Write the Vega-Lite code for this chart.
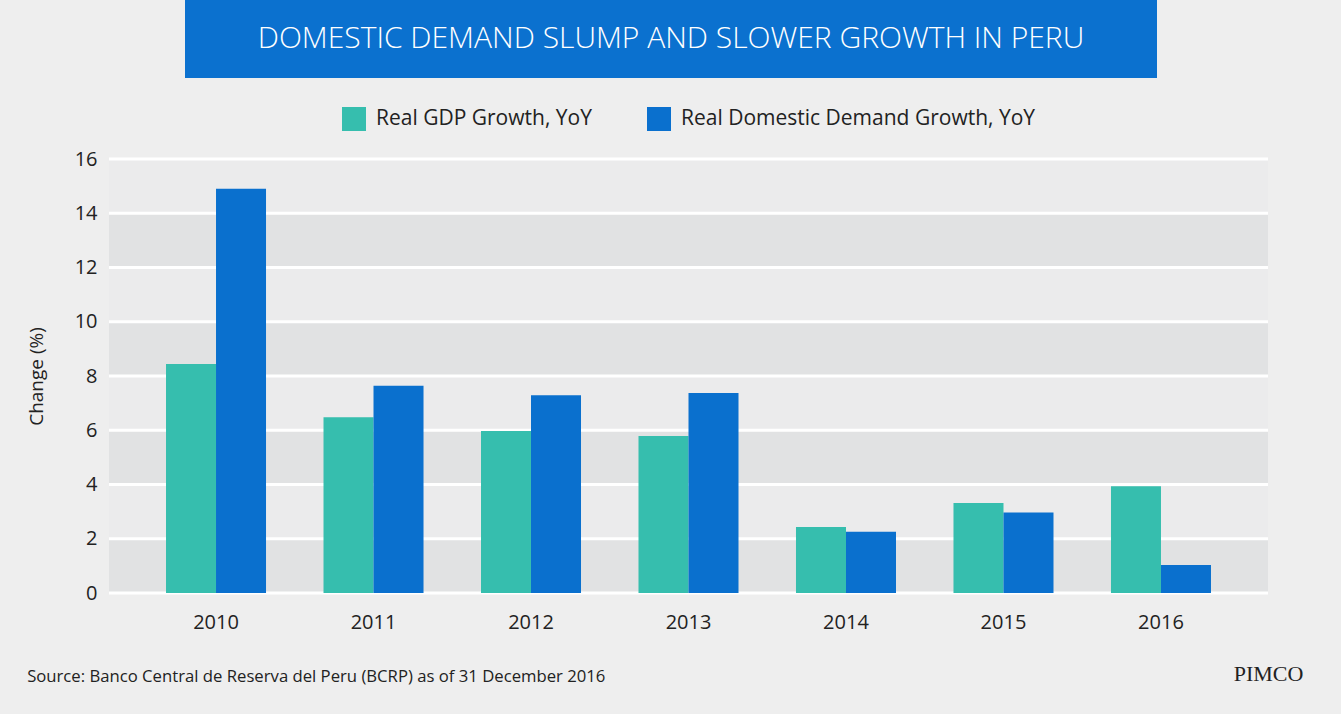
{
  "$schema": "https://vega.github.io/schema/vega-lite/v6.json",
  "background": "#eeeeee",
  "padding": {"left": 27, "top": 0, "right": 39, "bottom": 29},
  "spacing": 29,
  "resolve": {"legend": {"color": "independent"}},
  "config": {
    "font": "Open Sans",
    "view": {"stroke": null},
    "legend": {"layout": {"top": {"anchor": "middle"}}}
  },
  "vconcat": [
    {
      "spacing": 20,
      "hconcat": [
        {
          "width": 56,
          "height": 78,
          "data": {"values": []},
          "mark": {"type": "point", "opacity": 0}
        },
        {
          "width": 972,
          "height": 78,
          "view": {"fill": "#0b71cf", "stroke": null},
          "data": {"values": [{"title": "DOMESTIC DEMAND SLUMP AND SLOWER GROWTH IN PERU"}]},
          "mark": {"type": "text", "color": "#ffffff", "fontSize": 30, "fontWeight": 300, "font": "Open Sans"},
          "encoding": {"text": {"field": "title", "type": "nominal"}}
        }
      ]
    },
    {
      "width": 1159,
      "height": 434,
      "title": {
        "text": "Source: Banco Central de Reserva del Peru (BCRP) as of 31 December 2016",
        "orient": "bottom",
        "anchor": "start",
        "frame": "bounds",
        "fontSize": 16.7,
        "fontWeight": "normal",
        "color": "#222222",
        "offset": 0,
        "dy": -15
      },
      "view": {"fill": "#ebebec", "stroke": null},
      "layer": [
        {
          "data": {"values": [
            {"lo": 0, "hi": 2},
            {"lo": 4, "hi": 6},
            {"lo": 8, "hi": 10},
            {"lo": 12, "hi": 14}
          ]},
          "mark": {"type": "rect", "color": "#e1e2e3"},
          "encoding": {
            "y": {
              "field": "lo",
              "type": "quantitative",
              "title": "Change (%)",
              "scale": {"domain": [0, 16], "nice": false},
              "axis": {
                "values": [0, 2, 4, 6, 8, 10, 12, 14, 16],
                "grid": false,
                "ticks": false,
                "domain": false,
                "labelFontSize": 20,
                "labelColor": "#222222",
                "labelPadding": 12,
                "titleFontSize": 19,
                "titleFontWeight": "normal",
                "titleColor": "#222222",
                "titlePadding": 28
              }
            },
            "y2": {"field": "hi"}
          }
        },
        {
          "data": {"values": [
            {"v": 0}, {"v": 2}, {"v": 4}, {"v": 6}, {"v": 8},
            {"v": 10}, {"v": 12}, {"v": 14}, {"v": 16}
          ]},
          "mark": {"type": "rule", "color": "#ffffff", "strokeWidth": 3},
          "encoding": {
            "y": {"field": "v", "type": "quantitative", "title": "Change (%)"}
          }
        },
        {
          "data": {"values": [
            {"year": "2010", "series": "Real GDP Growth, YoY", "value": 8.44},
            {"year": "2010", "series": "Real Domestic Demand Growth, YoY", "value": 14.9},
            {"year": "2011", "series": "Real GDP Growth, YoY", "value": 6.48},
            {"year": "2011", "series": "Real Domestic Demand Growth, YoY", "value": 7.64},
            {"year": "2012", "series": "Real GDP Growth, YoY", "value": 5.97},
            {"year": "2012", "series": "Real Domestic Demand Growth, YoY", "value": 7.29},
            {"year": "2013", "series": "Real GDP Growth, YoY", "value": 5.79},
            {"year": "2013", "series": "Real Domestic Demand Growth, YoY", "value": 7.37},
            {"year": "2014", "series": "Real GDP Growth, YoY", "value": 2.43},
            {"year": "2014", "series": "Real Domestic Demand Growth, YoY", "value": 2.26},
            {"year": "2015", "series": "Real GDP Growth, YoY", "value": 3.32},
            {"year": "2015", "series": "Real Domestic Demand Growth, YoY", "value": 2.97},
            {"year": "2016", "series": "Real GDP Growth, YoY", "value": 3.94},
            {"year": "2016", "series": "Real Domestic Demand Growth, YoY", "value": 1.03}
          ]},
          "mark": {"type": "bar"},
          "encoding": {
            "x": {
              "field": "year",
              "type": "nominal",
              "scale": {"paddingInner": 0.365, "paddingOuter": 0.362},
              "axis": {
                "labelAngle": 0,
                "labelFontSize": 20,
                "labelColor": "#222222",
                "labelPadding": 19,
                "ticks": false,
                "domain": false,
                "title": "PIMCO",
                "titleFont": "Liberation Serif",
                "titleFontSize": 22,
                "titleFontWeight": "normal",
                "titleColor": "#222222",
                "titleAnchor": "end",
                "titleAlign": "center",
                "titlePadding": 31
              }
            },
            "xOffset": {
              "field": "series",
              "type": "nominal",
              "sort": ["Real GDP Growth, YoY", "Real Domestic Demand Growth, YoY"]
            },
            "y": {"field": "value", "type": "quantitative", "title": "Change (%)"},
            "color": {
              "field": "series",
              "type": "nominal",
              "sort": ["Real GDP Growth, YoY", "Real Domestic Demand Growth, YoY"],
              "scale": {
                "domain": ["Real GDP Growth, YoY", "Real Domestic Demand Growth, YoY"],
                "range": ["#36beae", "#0a70ce"]
              },
              "legend": {
                "title": null,
                "orient": "top",
                "direction": "horizontal",
                "symbolType": "square",
                "symbolSize": 576,
                "symbolStrokeWidth": 0,
                "symbolOpacity": 1,
                "labelFontSize": 21,
                "labelColor": "#222222",
                "labelLimit": 500,
                "labelOffset": 10,
                "columnPadding": 55,
                "offset": 28
              }
            }
          }
        }
      ]
    }
  ]
}
